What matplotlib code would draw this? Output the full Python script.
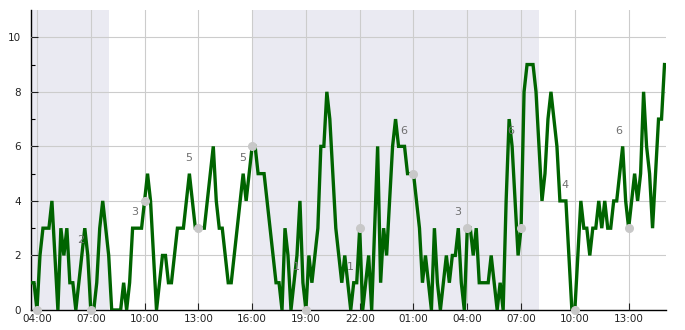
import matplotlib
matplotlib.use("Agg")
import matplotlib.pyplot as plt
import matplotlib.dates as mdates
import pandas as pd
import numpy as np

# ---- data (10-minute samples starting 03:40 day 1) ----
start_time = "2024-01-01 03:40"
sample_freq = "10min"
values = [
    1, 1,                    # 03:40
    0, 2, 3, 3, 3, 4,        # 04
    2, 0, 3, 2, 3, 1,        # 05
    1, 0, 1, 2, 3, 2,        # 06
    0, 0, 1, 3, 4, 3,        # 07
    2, 0, 0, 0, 0, 1,        # 08
    0, 1, 3, 3, 3, 3,        # 09
    4, 5, 4, 2, 0, 1,        # 10
    2, 2, 1, 1, 2, 3,        # 11
    3, 3, 4, 5, 4, 3,        # 12
    3, 3, 3, 4, 5, 6,        # 13
    4, 3, 3, 2, 1, 1,        # 14
    2, 3, 4, 5, 4, 5,        # 15
    6, 6, 5, 5, 5, 4,        # 16
    3, 2, 1, 1, 0, 3,        # 17
    2, 0, 1, 2, 4, 1,        # 18
    0, 2, 1, 2, 3, 6,        # 19
    6, 8, 7, 5, 3, 2,        # 20
    1, 2, 1, 0, 1, 1,        # 21
    3, 0, 1, 2, 0, 3,        # 22
    6, 1, 3, 2, 4, 6,        # 23
    7, 6, 6, 6, 5, 5,        # 00
    5, 4, 3, 1, 2, 1,        # 01
    0, 3, 1, 0, 1, 2,        # 02
    1, 2, 2, 3, 1, 0,        # 03
    3, 3, 2, 3, 1, 1,        # 04
    1, 1, 2, 1, 0, 1,        # 05
    0, 4, 7, 6, 4, 2,        # 06
    3, 8, 9, 9, 9, 8,        # 07
    6, 4, 5, 7, 8, 7,        # 08
    6, 4, 4, 4, 2, 0,        # 09
    0, 2, 4, 3, 3, 2,        # 10
    3, 3, 4, 3, 4, 3,        # 11
    3, 4, 4, 5, 6, 4,        # 12
    3, 4, 5, 4, 5, 8,        # 13
    6, 5, 3, 5, 7, 7,        # 14
    9,                       # 15
]

marker_times = ["2024-01-01 04:00", "2024-01-01 07:00", "2024-01-01 10:00",
                "2024-01-01 13:00", "2024-01-01 16:00", "2024-01-01 19:00",
                "2024-01-01 22:00", "2024-01-02 01:00", "2024-01-02 04:00",
                "2024-01-02 07:00", "2024-01-02 10:00", "2024-01-02 13:00"]
marker_values = [0, 0, 4, 3, 6, 0, 3, 5, 3, 3, 0, 3]
marker_labels = ["", "2", "3", "5", "5", "1", "1", "6", "3", "6", "4", "6"]

shade_spans = [("2024-01-01 03:40", "2024-01-01 08:00"),
               ("2024-01-01 16:00", "2024-01-02 08:00")]

xlim = ("2024-01-01 03:40", "2024-01-02 15:05")
ylim = (0, 11)

# ---- figure ----
times = pd.date_range(start_time, periods=len(values), freq=sample_freq)
fig = plt.figure(figsize=(6.85, 3.30), dpi=100)
ax = fig.add_axes([31/685, 20/330, (666-31)/685, 300/330])

for a, b in shade_spans:
    ax.axvspan(pd.Timestamp(a), pd.Timestamp(b), color="#eaeaf2", lw=0, zorder=0)

ax.grid(True, which="major", color="#cccccc", lw=0.8, zorder=1)
ax.set_axisbelow(False)

ax.plot(times, values, color="#006400", lw=2.4, zorder=3,
        solid_joinstyle="miter")

mt = pd.to_datetime(marker_times)
ax.plot(mt, marker_values, "o", color="#c8c8c8", ms=5.5, zorder=5, clip_on=False)
for t, lab in zip(mt, marker_labels):
    if lab:
        ax.text(t - pd.Timedelta(minutes=33), int(lab) + 0.58, lab,
                ha="center", va="center", fontsize=8, color="#707070", zorder=6)

ax.set_xlim(pd.Timestamp(xlim[0]), pd.Timestamp(xlim[1]))
ax.set_ylim(*ylim)
ax.xaxis.set_major_locator(mdates.HourLocator(byhour=[1, 4, 7, 10, 13, 16, 19, 22]))
ax.xaxis.set_major_formatter(mdates.DateFormatter("%H:%M"))
ax.set_yticks([0, 2, 4, 6, 8, 10])
ax.set_yticks([1, 3, 5, 7, 9], minor=True)
ax.tick_params(axis="both", which="major", direction="in", length=5, width=0.8,
               labelsize=7.5, colors="#222222")
ax.tick_params(axis="y", which="minor", direction="in", length=3, width=0.8)
ax.tick_params(axis="x", pad=3)
ax.tick_params(axis="y", pad=7)
for s in ["top", "right"]:
    ax.spines[s].set_visible(False)
for s in ["left", "bottom"]:
    ax.spines[s].set_color("#000000")
    ax.spines[s].set_linewidth(1.0)

fig.savefig("out.png", dpi=100)
